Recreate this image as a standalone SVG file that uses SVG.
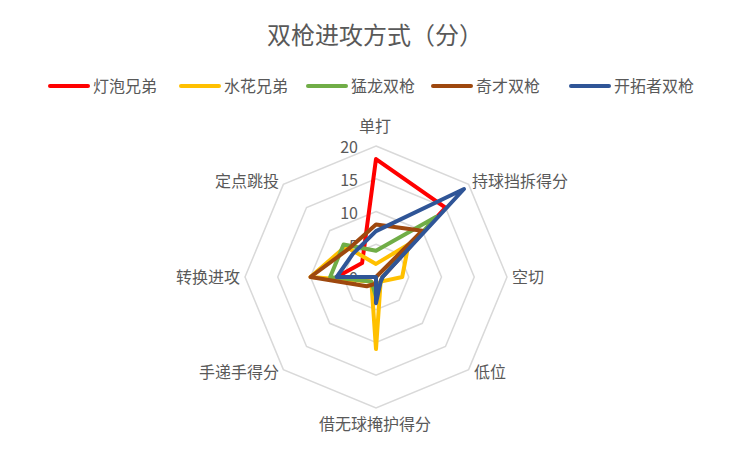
<svg xmlns="http://www.w3.org/2000/svg" width="750" height="449" viewBox="0 0 750 449">
<style>
text{font-family:"Noto Sans CJK SC","Liberation Sans",sans-serif;fill:#595959;font-size:16px}
.ring{fill:none;stroke:#d9d9d9;stroke-width:1.5}
.s{fill:none;stroke-width:4;stroke-linejoin:round}
.lg{stroke-width:4;stroke-linecap:round}
</style>
<rect width="750" height="449" fill="#fff"/>
<text x="375" y="44" text-anchor="middle" style="font-size:24px">双枪进攻方式（分）</text>
<g id="legend">
<line class="lg" x1="50" y1="86" x2="88" y2="86" stroke="#ff0000"/><text x="93" y="92">灯泡兄弟</text>
<line class="lg" x1="181" y1="86" x2="219" y2="86" stroke="#ffc000"/><text x="224" y="92">水花兄弟</text>
<line class="lg" x1="308" y1="86" x2="346" y2="86" stroke="#70ad47"/><text x="351" y="92">猛龙双枪</text>
<line class="lg" x1="433" y1="86" x2="471" y2="86" stroke="#9e480e"/><text x="476" y="92">奇才双枪</text>
<line class="lg" x1="571" y1="86" x2="609" y2="86" stroke="#2f5597"/><text x="614" y="92">开拓者双枪</text>
</g>
<g id="grid">
<polygon class="ring" points="376,244.25 399.16,253.84 408.75,277 399.16,300.16 376,309.75 352.84,300.16 343.25,277 352.84,253.84"/>
<polygon class="ring" points="376,211.5 422.31,230.69 441.5,277 422.31,323.31 376,342.5 329.69,323.31 310.5,277 329.69,230.69"/>
<polygon class="ring" points="376,178.75 445.47,207.53 474.25,277 445.47,346.47 376,375.25 306.53,346.47 277.75,277 306.53,207.53"/>
<polygon class="ring" points="376,146 468.63,184.37 507,277 468.63,369.63 376,408 283.37,369.63 245,277 283.37,184.37"/>
</g>
<g id="ticks" text-anchor="end">
<text x="358" y="153">20</text><text x="358" y="186">15</text><text x="358" y="219">10</text><text x="358" y="252">5</text><text x="358" y="284">0</text>
</g>
<g id="axis-labels">
<text x="375" y="132" text-anchor="middle">单打</text>
<text x="472" y="187">持球挡拆得分</text>
<text x="512" y="283">空切</text>
<text x="474" y="378">低位</text>
<text x="375" y="430" text-anchor="middle">借无球掩护得分</text>
<text x="279" y="378" text-anchor="end">手递手得分</text>
<text x="240" y="283" text-anchor="end">转换进攻</text>
<text x="279" y="187" text-anchor="end">定点跳投</text>
</g>
<g id="series">
<polygon class="s" stroke="#ff0000" points="376,159.1 445.47,207.53 382.55,277 380.63,281.63 376,290.1 371.37,281.63 336.7,277 362.11,263.11"/>
<polygon class="s" stroke="#ffc000" points="376,263.9 408.42,244.58 402.2,277 380.63,281.63 376,349.05 371.37,281.63 310.5,277 345.5,246.5"/>
<polygon class="s" stroke="#70ad47" points="376,250.8 436.21,216.79 382.55,277 380.63,281.63 376,296.65 371.37,281.63 330.15,277 343.58,244.58"/>
<polygon class="s" stroke="#9e480e" points="376,224.6 422.31,230.69 376,277 376,277 376,283.55 366.74,286.26 310.5,277 348.21,249.21"/>
<polygon class="s" stroke="#2f5597" points="376,231.15 464,189 382.55,277 380.63,281.63 376,303.2 376,277 336.7,277 352.84,253.84"/>
</g>
</svg>
